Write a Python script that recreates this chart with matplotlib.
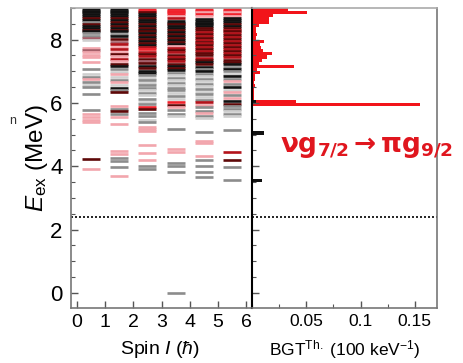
import matplotlib
matplotlib.use("Agg")
import matplotlib.pyplot as plt
from matplotlib.ticker import MultipleLocator, FixedLocator

plt.rcParams['font.family'] = ['Liberation Sans', 'DejaVu Sans']
plt.rcParams['mathtext.fontset'] = 'custom'
plt.rcParams['mathtext.rm'] = 'Liberation Sans'
plt.rcParams['mathtext.it'] = 'Liberation Sans:italic'
plt.rcParams['mathtext.bf'] = 'DejaVu Sans:bold'

# level colour codes
palette = {'K': '#111111', 'D': '#5e0808', 'R': '#b3121a', 'B': '#f0222c', 'P': '#f2a6ad',
           'G': '#8c8c8c', 'L': '#cfcfcf', 'M': '#a5606a'}

# levels per spin column: (E_ex in MeV, colour code)
spins = [0.5, 1.5, 2.5, 3.5, 4.5, 5.5]

lev_1_2 = [(8.98, 'K'), (8.92, 'K'), (8.86, 'K'), (8.80, 'K'), (8.74, 'K'), (8.68, 'D'),
           (8.62, 'K'), (8.56, 'G'), (8.50, 'D'), (8.44, 'K'), (8.38, 'K'), (8.32, 'D'),
           (8.26, 'K'), (8.20, 'G'), (8.10, 'G'), (8.05, 'M'), (7.98, 'L'), (7.75, 'P'),
           (7.68, 'M'), (7.60, 'P'), (7.52, 'P'), (7.45, 'P'), (7.28, 'P'), (7.06, 'G'),
           (6.90, 'L'), (6.82, 'G'), (6.75, 'P'), (6.66, 'G'), (6.58, 'L'), (6.50, 'G'),
           (6.27, 'G'), (5.77, 'G'), (5.66, 'P'), (5.57, 'P'), (5.46, 'P'), (5.40, 'P'),
           (4.24, 'D'), (3.92, 'P')]

lev_3_2 = [(8.98, 'K'), (8.92, 'K'), (8.86, 'K'), (8.80, 'K'), (8.74, 'K'), (8.68, 'D'),
           (8.62, 'K'), (8.56, 'D'), (8.50, 'K'), (8.44, 'D'), (8.38, 'K'), (8.32, 'D'),
           (8.26, 'K'), (8.18, 'G'), (8.10, 'K'), (8.02, 'D'), (7.94, 'M'), (7.86, 'R'),
           (7.78, 'P'), (7.70, 'R'), (7.62, 'P'), (7.55, 'D'), (7.48, 'P'), (7.40, 'R'),
           (7.33, 'P'), (7.24, 'D'), (7.16, 'K'), (7.08, 'G'), (6.98, 'L'), (6.90, 'P'),
           (6.82, 'L'), (6.74, 'G'), (6.66, 'P'), (6.58, 'L'), (6.48, 'K'), (6.42, 'G'),
           (6.33, 'D'), (5.89, 'P'), (5.80, 'G'), (5.73, 'D'), (5.66, 'G'), (5.57, 'P'),
           (5.32, 'P'), (4.49, 'P'), (4.40, 'P'), (4.27, 'G'), (4.16, 'G'), (3.97, 'G'),
           (3.70, 'P')]

lev_5_2 = [(8.98, 'B'), (8.92, 'B'), (8.86, 'D'), (8.80, 'K'), (8.74, 'K'), (8.68, 'D'),
           (8.62, 'K'), (8.56, 'K'), (8.50, 'D'), (8.44, 'K'), (8.38, 'D'), (8.32, 'K'),
           (8.26, 'D'), (8.20, 'K'), (8.14, 'D'), (8.08, 'K'), (8.02, 'D'), (7.96, 'K'),
           (7.90, 'D'), (7.84, 'K'), (7.78, 'R'), (7.70, 'B'), (7.62, 'R'), (7.55, 'D'),
           (7.48, 'R'), (7.40, 'D'), (7.33, 'M'), (7.26, 'D'), (7.18, 'K'), (7.10, 'D'),
           (7.02, 'K'), (6.95, 'K'), (6.88, 'G'), (6.80, 'L'), (6.72, 'G'), (6.64, 'L'),
           (6.56, 'G'), (6.48, 'G'), (6.40, 'L'), (6.32, 'G'), (6.24, 'L'), (6.14, 'G'),
           (6.04, 'L'), (5.96, 'G'), (5.88, 'B'), (5.82, 'D'), (5.68, 'G'), (5.58, 'G'),
           (5.45, 'L'), (5.40, 'G'), (5.25, 'P'), (5.18, 'P'), (5.10, 'P'), (4.68, 'P'),
           (4.43, 'P'), (4.20, 'P'), (4.00, 'G'), (3.90, 'G')]

lev_7_2 = [(8.98, 'B'), (8.92, 'B'), (8.86, 'B'), (8.80, 'B'), (8.74, 'P'), (8.68, 'R'),
           (8.60, 'K'), (8.54, 'K'), (8.48, 'D'), (8.42, 'K'), (8.36, 'K'), (8.30, 'D'),
           (8.24, 'K'), (8.18, 'D'), (8.12, 'K'), (8.06, 'D'), (8.00, 'K'), (7.92, 'D'),
           (7.86, 'K'), (7.80, 'P'), (7.74, 'R'), (7.67, 'D'), (7.60, 'R'), (7.53, 'D'),
           (7.46, 'R'), (7.39, 'D'), (7.32, 'R'), (7.24, 'D'), (7.17, 'K'), (7.10, 'D'),
           (7.03, 'K'), (6.96, 'G'), (6.88, 'L'), (6.80, 'G'), (6.72, 'L'), (6.64, 'G'),
           (6.56, 'L'), (6.48, 'G'), (6.40, 'G'), (6.30, 'L'), (6.22, 'G'), (6.12, 'L'),
           (6.02, 'B'), (5.95, 'D'), (5.88, 'P'), (5.78, 'G'), (5.66, 'G'), (5.58, 'L'),
           (5.19, 'G'), (4.56, 'P'), (4.45, 'P'), (4.11, 'G'), (4.00, 'G'), (3.83, 'G'),
           (0.00, 'G')]

lev_9_2 = [(8.98, 'B'), (8.92, 'B'), (8.86, 'P'), (8.80, 'B'), (8.74, 'P'), (8.66, 'K'),
           (8.60, 'K'), (8.54, 'K'), (8.48, 'K'), (8.42, 'K'), (8.36, 'D'), (8.30, 'D'),
           (8.24, 'R'), (8.18, 'D'), (8.12, 'R'), (8.06, 'D'), (8.00, 'R'), (7.94, 'D'),
           (7.88, 'R'), (7.82, 'D'), (7.76, 'R'), (7.70, 'D'), (7.64, 'R'), (7.57, 'D'),
           (7.50, 'D'), (7.43, 'R'), (7.36, 'D'), (7.29, 'K'), (7.22, 'D'), (7.15, 'K'),
           (7.08, 'G'), (7.00, 'K'), (6.92, 'G'), (6.84, 'L'), (6.76, 'G'), (6.68, 'L'),
           (6.60, 'G'), (6.52, 'L'), (6.44, 'G'), (6.36, 'L'), (6.28, 'G'), (6.18, 'L'),
           (6.10, 'G'), (6.02, 'R'), (5.95, 'P'), (5.86, 'G'), (5.76, 'G'), (5.68, 'P'),
           (5.60, 'G'), (5.52, 'L'), (5.09, 'G'), (4.80, 'P'), (4.72, 'P'), (4.33, 'P'),
           (4.20, 'G'), (4.00, 'G'), (3.83, 'G'), (3.67, 'G')]

lev_11_2 = [(8.98, 'B'), (8.92, 'B'), (8.86, 'P'), (8.80, 'B'), (8.74, 'P'), (8.68, 'K'),
            (8.62, 'K'), (8.56, 'K'), (8.50, 'D'), (8.44, 'K'), (8.38, 'D'), (8.32, 'R'),
            (8.26, 'D'), (8.20, 'R'), (8.14, 'D'), (8.08, 'R'), (8.02, 'D'), (7.96, 'R'),
            (7.90, 'D'), (7.84, 'R'), (7.78, 'D'), (7.72, 'R'), (7.65, 'D'), (7.58, 'R'),
            (7.51, 'D'), (7.44, 'R'), (7.37, 'D'), (7.30, 'D'), (7.22, 'K'), (7.15, 'G'),
            (7.08, 'K'), (7.00, 'G'), (6.92, 'L'), (6.84, 'K'), (6.76, 'G'), (6.68, 'P'),
            (6.60, 'G'), (6.50, 'K'), (6.42, 'L'), (6.34, 'P'), (6.26, 'G'), (6.16, 'P'),
            (6.06, 'K'), (5.98, 'D'), (5.90, 'G'), (5.82, 'G'), (5.74, 'L'), (5.66, 'G'),
            (5.58, 'L'), (5.16, 'G'), (4.46, 'R'), (4.20, 'D'), (3.96, 'G'), (3.55, 'G')]

columns = [lev_1_2, lev_3_2, lev_5_2, lev_7_2, lev_9_2, lev_11_2]

# B(GT) strength in 100 keV bins (lower bin edge, value)
bgt_red_lo = [8.9, 8.8, 8.7, 8.6, 8.5, 8.4, 8.3, 8.2, 8.1, 8.0, 7.9, 7.8, 7.7, 7.6, 7.5, 7.4,
              7.3, 7.2, 7.1, 7.0, 6.9, 6.8, 6.7, 6.6, 6.5, 6.4, 6.3, 6.2, 6.1, 6.0, 5.9]
bgt_red_val = [0.033, 0.051, 0.019, 0.016, 0.016, 0.006, 0.004, 0.004, 0.005, 0.004, 0.011,
               0.007, 0.008, 0.010, 0.018, 0.014, 0.009, 0.006, 0.039, 0.005, 0.007, 0.003,
               0.003, 0.002, 0.003, 0.002, 0.002, 0.002, 0.002, 0.041, 0.155]
bgt_blk_lo = [6.0, 5.0, 3.5]
bgt_blk_val = [0.004, 0.011, 0.009]

sn_energy = 2.4

W, H = 463, 363
fig = plt.figure(figsize=(W / 100, H / 100), dpi=100)
ax1 = fig.add_axes([71 / W, 55 / H, 181 / W, 300 / H])
ax2 = fig.add_axes([252 / W, 55 / H, 185 / W, 300 / H], sharey=ax1)

half = 0.32
for s, levs in zip(spins, columns):
    for e, c in levs:
        ax1.hlines(e, s - half, s + half, color=palette[c], lw=1.9)

ax2.barh([e + 0.05 for e in bgt_red_lo], bgt_red_val, height=0.1, color='#f2141a',
         edgecolor='none')
ax2.barh([e + 0.05 for e in bgt_blk_lo], bgt_blk_val, height=0.1, color='#111111',
         edgecolor='none')

for ax in (ax1, ax2):
    ax.axhline(sn_energy, color='black', lw=1.2, ls=(0, (1.2, 1.2)))

ax1.set_xlim(-0.2, 6.2)
ax1.set_ylim(-0.48, 9.0)
ax2.set_xlim(0, 0.1705)

ax1.xaxis.set_major_locator(MultipleLocator(1))
ax1.yaxis.set_major_locator(FixedLocator([0, 2, 4, 6, 8]))
ax1.yaxis.set_minor_locator(MultipleLocator(0.5))
ax2.xaxis.set_major_locator(FixedLocator([0.05, 0.1, 0.15]))
ax2.set_xticklabels(['0.05', '0.1', '0.15'])
ax2.xaxis.set_minor_locator(MultipleLocator(0.025))

ax1.tick_params(axis='both', which='major', direction='in', length=5, width=1,
                color='#555555')
ax1.tick_params(axis='both', which='minor', direction='in', length=3, width=0.8,
                color='#555555')
ax1.tick_params(axis='y', labelsize=16, pad=6)
ax1.tick_params(axis='x', labelsize=14, pad=4)
ax2.tick_params(axis='both', which='major', direction='in', length=5, width=1,
                color='#555555', labelleft=False)
ax2.tick_params(axis='both', which='minor', direction='in', length=3, width=0.8,
                color='#555555')
ax2.tick_params(axis='x', labelsize=12.5, pad=4)

for ax in (ax1, ax2):
    for side in ('top', 'bottom', 'left', 'right'):
        ax.spines[side].set_color('#777777')
        ax.spines[side].set_linewidth(1.2)
ax1.spines['right'].set_visible(False)
ax2.spines['left'].set_color('black')
ax2.spines['left'].set_linewidth(1.5)
ax2.spines['top'].set_color('#aaaaaa')
ax1.spines['top'].set_color('#aaaaaa')

fig.text(37 / W, 1 - 158 / H, r'$E_{\rm ex}$ (MeV)', rotation=90, ha='center', va='center',
         fontsize=17.5)
fig.text(160 / W, 1 - 349 / H, r'Spin $I$ ($ħ$)', ha='center', va='center', fontsize=14)
fig.text(345 / W, 1 - 350 / H, r'BGT$^{\rm Th.}$ (100 keV$^{-1}$)', ha='center',
         va='center', fontsize=12.5)
fig.text(280 / W, 1 - 152 / H, r'$\mathbf{\nu g_{7/2} \rightarrow \pi g_{9/2}}$',
         ha='left', va='baseline', color='#e0161e', fontsize=19)
fig.text(9 / W, 1 - 121 / H, 'n', ha='left', va='center', fontsize=9, color='#333333')

fig.savefig('out.png', dpi=100)
